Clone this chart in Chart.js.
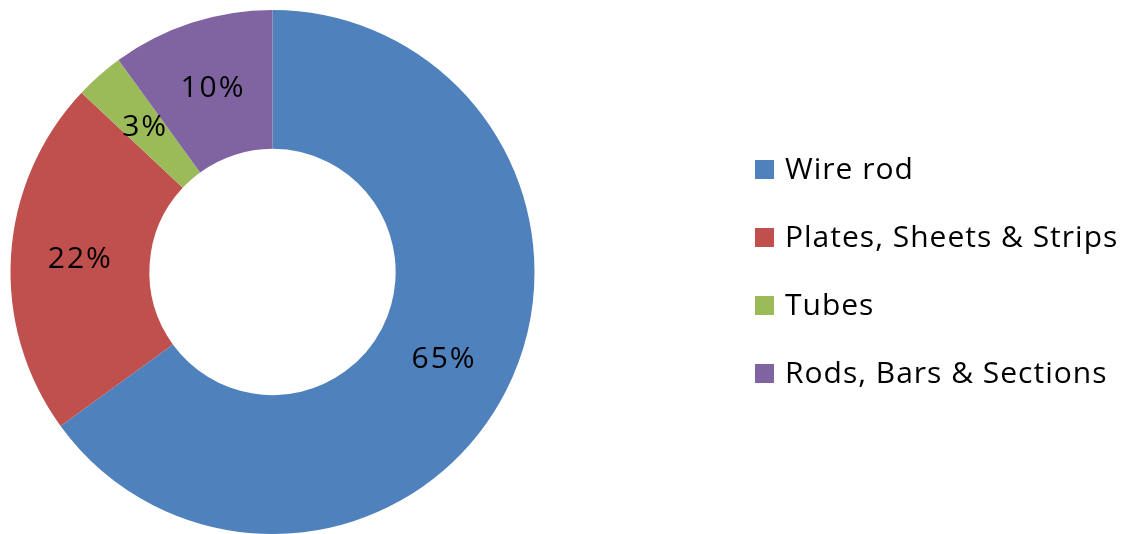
<!DOCTYPE html>
<html>
<head>
<meta charset="utf-8">
<script src="https://cdn.jsdelivr.net/npm/chart.js@4.4.1/dist/chart.umd.min.js"></script>
<style>
  html, body { margin: 0; padding: 0; background: #ffffff; }
  #wrap { width: 1124px; height: 534px; position: relative; }
</style>
</head>
<body>
<div id="wrap"><canvas id="product-chart"></canvas></div>
<script>
// product mix, share in percent
const categories = ['Wire rod', 'Plates, Sheets & Strips', 'Tubes', 'Rods, Bars & Sections'];
const shares = [65, 22, 3, 10];
const sliceColors = ['#4f81bd', '#c0504d', '#9bbb59', '#8064a2'];

const FONT = '30px "Open Sans", Lato, sans-serif';

// percent labels, drawn at the middle of every slice
const sliceLabels = {
  id: 'sliceLabels',
  afterDatasetsDraw(chart) {
    const ctx = chart.ctx;
    const meta = chart.getDatasetMeta(0);
    ctx.save();
    ctx.font = FONT;
    ctx.letterSpacing = '2px';
    ctx.fillStyle = '#000000';
    ctx.textAlign = 'center';
    ctx.textBaseline = 'middle';
    meta.data.forEach((arc, i) => {
      const p = arc.getCenterPoint();
      ctx.fillText(shares[i] + '%', p.x, p.y);
    });
    ctx.restore();
  }
};

// legend to the right of the ring
const sideLegend = {
  id: 'sideLegend',
  afterDraw(chart) {
    const ctx = chart.ctx;
    ctx.save();
    ctx.font = FONT;
    ctx.letterSpacing = '1px';
    ctx.textBaseline = 'middle';
    categories.forEach((name, i) => {
      const y = 170 + i * 68;
      ctx.fillStyle = sliceColors[i];
      ctx.fillRect(755, y - 10, 19, 19);
      ctx.fillStyle = '#000000';
      ctx.fillText(name, 785, y);
    });
    ctx.restore();
  }
};

const config = {
  type: 'doughnut',
  data: {
    labels: categories,
    datasets: [{
      data: shares,
      backgroundColor: sliceColors,
      borderWidth: 0
    }]
  },
  options: {
    responsive: true,
    maintainAspectRatio: false,
    animation: false,
    cutout: '47%',
    layout: { padding: { left: 10, right: 589, top: 10, bottom: 0 } },
    plugins: {
      legend: { display: false },
      tooltip: { enabled: false }
    }
  },
  plugins: [sliceLabels, sideLegend]
};

const productChart = new Chart(document.getElementById('product-chart').getContext('2d'), config);
</script>
</body>
</html>
